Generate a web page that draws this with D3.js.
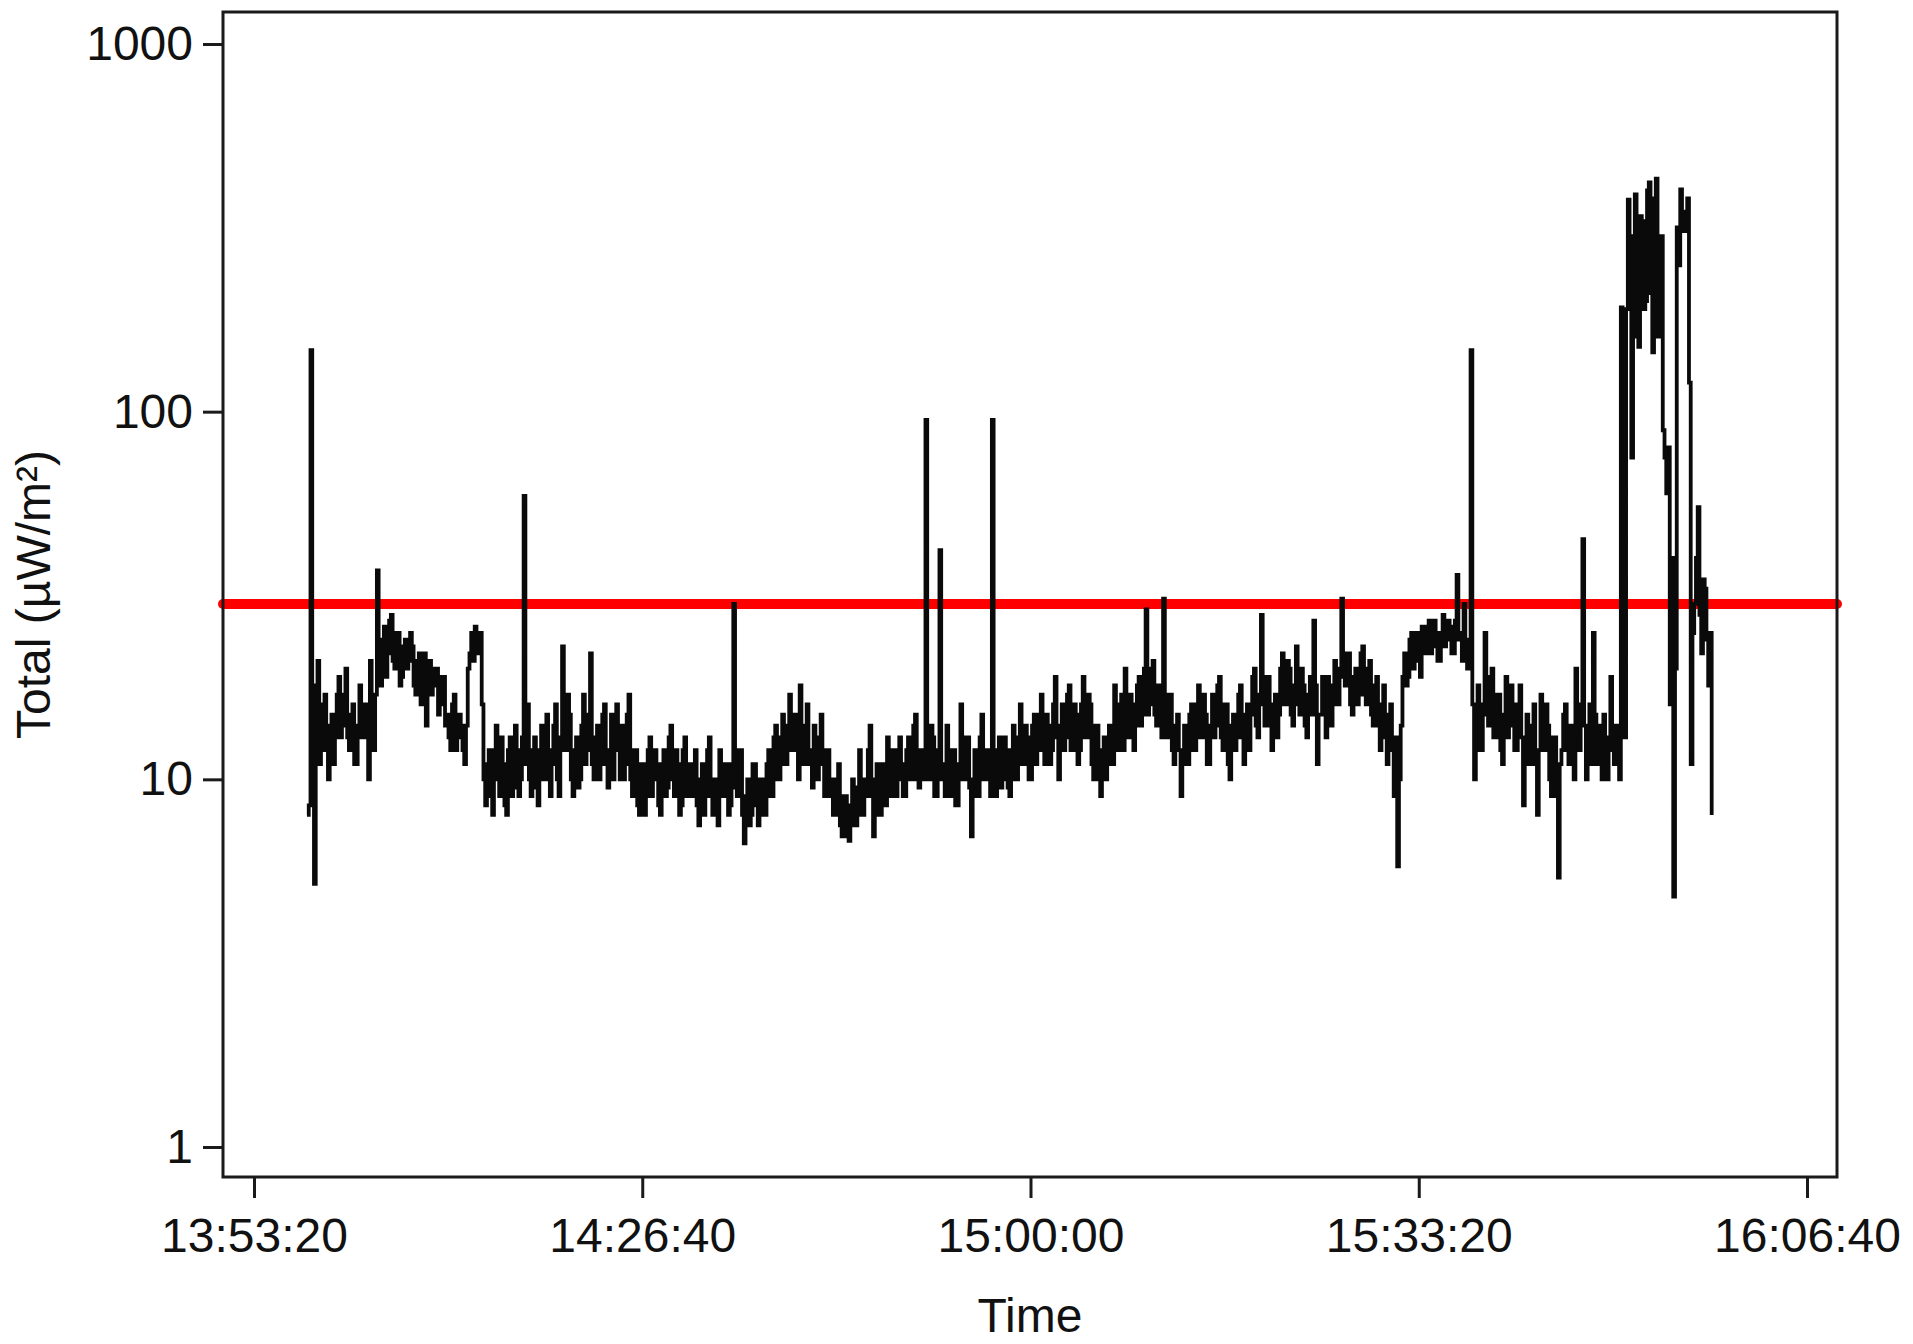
<!DOCTYPE html>
<html>
<head>
<meta charset="utf-8">
<script src="https://cdn.jsdelivr.net/npm/d3@7"></script>
<style>
  html, body { margin: 0; padding: 0; background: #ffffff; }
  svg { display: block; }
  text { font-family: "Liberation Sans", Arial, Helvetica, sans-serif; fill: #111; }
</style>
</head>
<body>
<svg id="chart" width="1913" height="1344"></svg>
<script>
// ---- data ----
const startTime = 50273;      // seconds after midnight of the first sample (13:57:53)
const sampleStep = 9;         // seconds between samples
const totalValues = [
  8, 8.5, 147, 14, 5.2, 18, 21, 11, 12, 16, 17, 12, 10, 14, 15, 11, 13, 17, 19, 13,
  14, 17, 20, 13, 12, 15, 16, 11, 11, 14, 18, 13, 13, 16, 15, 10, 21, 15, 12, 17,
  37, 22, 18, 24, 26, 19, 22, 27, 28, 21, 20, 25, 25, 18, 19, 23, 24, 20, 21, 25,
  23, 18, 17, 21, 22, 16, 19, 22, 14, 18, 21, 17, 18, 20, 20, 15, 16, 19, 19, 14,
  15, 13, 12, 16, 17, 12, 13, 15, 14, 12, 11, 14, 20, 22, 25, 21, 26, 24, 22, 25,
  16, 10, 8.5, 11, 12, 9, 8, 12, 14, 10, 9, 13, 11, 8.5, 8, 12, 13, 9, 9.5, 14,
  12, 9, 10, 13, 59, 11, 16, 10, 9, 12, 13, 9.5, 8.5, 12, 14, 10, 10, 15, 12, 9,
  11, 14, 16, 10, 9, 13, 23, 12, 12, 17, 15, 10, 9, 12, 13, 9.5, 10, 14, 17, 11,
  12, 15, 22, 11, 10, 13, 14, 10, 11, 15, 16, 11, 9.5, 12, 15, 10, 12, 16, 13, 10,
  14, 10, 11, 15, 17, 10, 9, 12, 12, 8.5, 8, 11, 11, 8, 9, 12, 13, 9, 10, 12,
  11, 8.5, 8, 11, 12, 9, 9.5, 13, 14, 10, 9, 12, 11, 8, 8.5, 12, 13, 9, 10, 11,
  9, 11, 12, 8.5, 7.5, 10, 11, 8, 9, 12, 13, 9, 8, 10, 10, 7.5, 12, 9, 9, 11,
  11, 8, 8.5, 11, 30, 9.5, 9, 12, 12, 8, 6.7, 9, 10, 7.5, 8, 11, 11, 8.5, 7.5, 10,
  10, 8, 8, 11, 12, 9, 9, 13, 14, 10, 10, 13, 15, 11, 11, 14, 17, 12, 12, 15,
  13, 10, 18, 12, 11, 14, 16, 11, 12, 9.5, 14, 10, 10, 13, 15, 11, 9, 12, 12, 9,
  10, 8, 8, 10, 11, 7.5, 7, 9, 9, 7, 6.8, 8.5, 10, 7.5, 7.5, 9.5, 12, 8, 8, 10,
  9, 12, 14, 9, 7, 10, 11, 8, 8, 11, 10, 8.5, 13, 9, 9, 12, 12, 9, 10, 13,
  11, 9, 9, 12, 13, 10, 10, 14, 15, 10, 9.5, 12, 12, 10, 95, 11, 10, 14, 13, 9,
  9, 12, 42, 10, 11, 9, 14, 10, 9, 12, 12, 8.5, 8.5, 11, 16, 10, 10, 13, 13, 9.5,
  7, 10, 12, 9, 9, 13, 15, 10, 10, 12, 12, 9, 95, 11, 9, 12, 13, 9.5, 10, 13,
  12, 9.5, 9, 12, 14, 10, 10, 13, 16, 11, 11, 14, 13, 10, 10, 14, 15, 11, 12, 15,
  17, 12, 11, 15, 14, 11, 12, 16, 19, 13, 10, 14, 16, 12, 13, 17, 18, 12, 12, 16,
  15, 11, 12, 16, 19, 13, 13, 17, 16, 11, 10, 14, 14, 10, 9, 12, 13, 10, 11, 14,
  14, 11, 18, 13, 12, 16, 17, 12, 20, 14, 13, 17, 16, 12, 14, 18, 19, 14, 15, 20,
  29, 15, 16, 20, 21, 15, 14, 18, 18, 13, 31, 16, 13, 17, 17, 12, 11, 14, 15, 12,
  9, 12, 14, 11, 11, 15, 16, 12, 12, 16, 18, 13, 13, 17, 15, 11, 11, 14, 17, 13,
  14, 18, 19, 13, 12, 16, 16, 11, 10, 14, 15, 12, 13, 17, 18, 13, 11, 15, 16, 12,
  15, 19, 20, 14, 13, 17, 28, 16, 14, 19, 19, 14, 12, 16, 17, 13, 15, 20, 22, 16,
  16, 21, 20, 15, 14, 18, 23, 16, 15, 20, 18, 14, 13, 17, 19, 15, 27, 18, 11, 15,
  15, 19, 17, 13, 19, 15, 14, 18, 21, 16, 16, 20, 31, 19, 18, 22, 22, 16, 15, 19,
  20, 16, 17, 22, 23, 17, 16, 20, 21, 15, 14, 18, 19, 14, 12, 16, 18, 13, 11, 15,
  16, 12, 9, 13, 5.8, 10, 14, 19, 22, 18, 19, 24, 25, 20, 21, 25, 23, 19, 26, 22,
  22, 26, 27, 22, 23, 27, 25, 21, 21, 25, 28, 23, 24, 27, 26, 22, 22, 27, 36, 24,
  25, 21, 30, 22, 20, 24, 147, 16, 10, 14, 18, 12, 12, 16, 25, 15, 14, 19, 20, 13,
  13, 17, 17, 12, 11, 15, 19, 13, 14, 18, 16, 12, 12, 16, 18, 13, 8.5, 12, 15, 11,
  11, 14, 16, 11, 8, 12, 17, 12, 12, 16, 14, 10, 9, 13, 13, 9, 5.4, 11, 12, 15,
  16, 12, 11, 14, 14, 10, 20, 13, 12, 16, 45, 14, 10, 13, 16, 11, 25, 15, 11, 14,
  12, 10, 15, 11, 10, 13, 19, 12, 11, 14, 13, 10, 192, 20, 13, 190, 377, 250, 75, 300,
  390, 160, 150, 340, 330, 190, 200, 400, 420, 210, 145, 380, 430, 160, 220, 300, 89, 75, 60, 80,
  16, 40, 4.8, 20, 317, 250, 402, 320, 310, 350, 380, 120, 11, 25, 30, 40, 55, 28, 22, 35,
  33, 24, 18, 25, 8
];
const thresholdValue = 30;                      // red reference line, µW/m²
const yTickValues = [1, 10, 100, 1000];
const xTickValues = [50000, 52000, 54000, 56000, 58000]; // 13:53:20 ... 16:06:40
const xLabel = "Time";
const yLabel = "Total (µW/m²)";

// ---- layout ----
const plot = { left: 223, right: 1837, top: 12, bottom: 1177 };
const svg = d3.select("#chart");

const x = d3.scaleLinear().domain([50000, 58000]).range([254, 1807]);
const y = d3.scaleLog().domain([1, 1000]).range([1147, 44]);

const series = totalValues.map((v, i) => ({ t: startTime + i * sampleStep, v }));

const fmtTime = s => {
  const h = Math.floor(s / 3600), m = Math.floor((s % 3600) / 60), sec = s % 60;
  const p = n => String(n).padStart(2, "0");
  return `${p(h)}:${p(m)}:${p(sec)}`;
};

// clip
svg.append("defs").append("clipPath").attr("id", "clip")
  .append("rect")
  .attr("x", plot.left).attr("y", plot.top)
  .attr("width", plot.right - plot.left).attr("height", plot.bottom - plot.top);

// threshold line
svg.append("line")
  .attr("x1", plot.left).attr("x2", plot.right)
  .attr("y1", y(thresholdValue)).attr("y2", y(thresholdValue))
  .attr("stroke", "#ff0000").attr("stroke-width", 10).attr("stroke-linecap", "round");

// data line
const line = d3.line()
  .x(d => x(d.t)).y(d => y(d.v))
  .curve(d3.curveStepAfter);

svg.append("path")
  .datum(series)
  .attr("clip-path", "url(#clip)")
  .attr("fill", "none")
  .attr("stroke", "#0a0a0a")
  .attr("stroke-width", 3.8)
  .attr("stroke-linejoin", "miter")
  .attr("d", line);

// frame
svg.append("rect")
  .attr("x", plot.left).attr("y", plot.top)
  .attr("width", plot.right - plot.left).attr("height", plot.bottom - plot.top)
  .attr("fill", "none").attr("stroke", "#1a1a1a").attr("stroke-width", 3);

// y axis
const yAxis = d3.axisLeft(y).tickValues(yTickValues).tickFormat(d3.format("d"))
  .tickSize(20).tickPadding(10);
const gy = svg.append("g").attr("transform", `translate(${plot.left},0)`).call(yAxis);
gy.select(".domain").remove();
gy.selectAll(".tick line").attr("stroke", "#1a1a1a").attr("stroke-width", 3);
gy.selectAll(".tick text").attr("font-size", 48).attr("fill", "#111")
  .attr("font-family", "'Liberation Sans', Arial, sans-serif");

// x axis
const xAxis = d3.axisBottom(x).tickValues(xTickValues).tickFormat(fmtTime)
  .tickSize(21).tickPadding(20);
const gx = svg.append("g").attr("transform", `translate(0,${plot.bottom})`).call(xAxis);
gx.select(".domain").remove();
gx.selectAll(".tick line").attr("stroke", "#1a1a1a").attr("stroke-width", 3);
gx.selectAll(".tick text").attr("font-size", 48).attr("fill", "#111")
  .attr("font-family", "'Liberation Sans', Arial, sans-serif");

// axis titles
svg.append("text")
  .attr("x", (plot.left + plot.right) / 2).attr("y", 1332)
  .attr("text-anchor", "middle").attr("font-size", 48)
  .text(xLabel);

svg.append("text")
  .attr("transform", `translate(50,${(plot.top + plot.bottom) / 2}) rotate(-90)`)
  .attr("text-anchor", "middle").attr("font-size", 48)
  .text(yLabel);
</script>
</body>
</html>
